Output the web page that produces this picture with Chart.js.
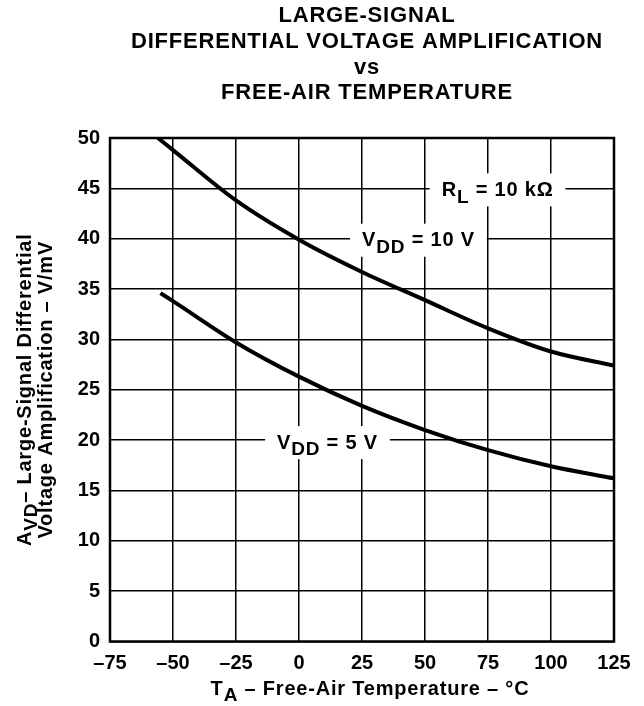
<!DOCTYPE html>
<html>
<head>
<meta charset="utf-8">
<script src="https://cdn.jsdelivr.net/npm/chart.js@4.4.0/dist/chart.umd.min.js"></script>
<style>
html,body{margin:0;padding:0;background:#fff;}
#wrap{width:644px;height:706px;position:relative;}
</style>
</head>
<body>
<div id="wrap"><canvas id="c" width="644" height="706"></canvas></div>
<script>
// ---- data ----
const titleLines = ["LARGE-SIGNAL", "DIFFERENTIAL VOLTAGE AMPLIFICATION", "vs", "FREE-AIR TEMPERATURE"];
const temps10 = [-56, -50, -25, 0, 25, 50, 75, 100, 125];
const avd10   = [50, 48.8, 43.8, 39.9, 36.7, 33.9, 31.1, 28.8, 27.4];
const temps5  = [-55, -50, -25, 0, 25, 50, 75, 100, 125];
const avd5    = [34.6, 33.8, 29.7, 26.3, 23.4, 21.0, 19.0, 17.4, 16.2];
const xTicks = [-75, -50, -25, 0, 25, 50, 75, 100, 125];
const yTicks = [0, 5, 10, 15, 20, 25, 30, 35, 40, 45, 50];
const curveLabels = [
  {parts: [["R",0],["L",1],[" = 10 k\u03A9",0]], x: 78.8, y: 44.8},
  {parts: [["V",0],["DD",1],[" = 10 V",0]], x: 47.4, y: 39.8},
  {parts: [["V",0],["DD",1],[" = 5 V",0]], x: 11.3, y: 19.7}
];
const xTitleParts = [["T",0],["A",1],[" \u2013 Free-Air Temperature \u2013 \u00B0C",0]];
const yTitle1 = [["A",0],["VD",1],["\u2013 Large-Signal Differential",0]];
const yTitle2 = [["Voltage Amplification \u2013 V/mV",0]];

const FAM = '"Liberation Sans", Arial, Helvetica, sans-serif';
const MAIN = 'bold 20px ' + FAM;
const SUB = 'bold 19px ' + FAM;
const SP = '0.8px';

function richWidth(ctx, parts){
  let w = 0;
  ctx.letterSpacing = SP;
  for (const [t, s] of parts){ ctx.font = s ? SUB : MAIN; w += ctx.measureText(t).width; }
  return w;
}
function drawRich(ctx, parts, cx, cy){
  const w = richWidth(ctx, parts);
  let x = cx - w/2;
  ctx.textBaseline = 'middle';
  ctx.textAlign = 'left';
  ctx.letterSpacing = SP;
  for (const [t, s] of parts){
    ctx.font = s ? SUB : MAIN;
    ctx.fillText(t, x, s ? cy + 7 : cy);
    x += ctx.measureText(t).width;
  }
  return w;
}

const decor = {
  id: 'decor',
  beforeDatasetsDraw(chart){
    const ctx = chart.ctx, xs = chart.scales.x, ys = chart.scales.y;
    ctx.save();
    for (const lb of curveLabels){
      const cx = xs.getPixelForValue(lb.x), cy = ys.getPixelForValue(lb.y);
      const w = richWidth(ctx, lb.parts);
      ctx.fillStyle = '#fff';
      ctx.fillRect(cx - w/2 - 12, cy - 17, w + 24, 33);
    }
    ctx.restore();
  },
  afterDatasetsDraw(chart){
    const ctx = chart.ctx, xs = chart.scales.x, ys = chart.scales.y, a = chart.chartArea;
    ctx.save();
    ctx.fillStyle = '#000';
    for (const lb of curveLabels){
      const cx = xs.getPixelForValue(lb.x), cy = ys.getPixelForValue(lb.y);
      drawRich(ctx, lb.parts, cx, cy);
    }
    // frame
    ctx.strokeStyle = '#000';
    ctx.lineWidth = 2.5;
    ctx.strokeRect(a.left, a.top, a.right - a.left, a.bottom - a.top);
    // title
    const cxT = (a.left + a.right) / 2 + 5;
    ctx.font = 'bold 22px ' + FAM; ctx.letterSpacing = '0.8px';
    ctx.textAlign = 'center'; ctx.textBaseline = 'middle';
    const ty = [16, 42, 68, 93];
    titleLines.forEach((t, i) => ctx.fillText(t, cxT, ty[i]));
    // x title
    drawRich(ctx, xTitleParts, cxT + 3, 689);
    // y title
    const cy = (a.top + a.bottom) / 2;
    ctx.save(); ctx.translate(25, cy); ctx.rotate(-Math.PI/2);
    drawRich(ctx, yTitle1, 0, 0);
    ctx.restore();
    ctx.save(); ctx.translate(46, cy); ctx.rotate(-Math.PI/2);
    drawRich(ctx, yTitle2, 0, 0);
    ctx.restore();
    ctx.restore();
  }
};

new Chart(document.getElementById('c'), {
  type: 'line',
  data: {
    datasets: [
      {data: temps10.map((t, i) => ({x: t, y: avd10[i]})), borderColor: '#000', borderWidth: 4, pointRadius: 0, cubicInterpolationMode: 'monotone', fill: false},
      {data: temps5.map((t, i) => ({x: t, y: avd5[i]})), borderColor: '#000', borderWidth: 4, pointRadius: 0, cubicInterpolationMode: 'monotone', fill: false}
    ]
  },
  options: {
    responsive: false,
    animation: false,
    layout: {padding: {top: 138, right: 30, left: 0, bottom: 0}},
    plugins: {legend: {display: false}, tooltip: {enabled: false}, title: {display: false}},
    scales: {
      x: {
        type: 'linear', min: -75, max: 125,
        afterBuildTicks: s => { s.ticks = xTicks.map(v => ({value: v})); },
        afterFit: s => { s.height = 64.5; },
        grid: {color: '#000', lineWidth: 1.5, drawTicks: false},
        border: {display: false},
        ticks: {color: '#000', padding: 10, font: {family: FAM, size: 20, weight: 'bold'},
          callback: v => v < 0 ? '\u2013' + Math.abs(v) : String(v)}
      },
      y: {
        type: 'linear', min: 0, max: 50,
        afterBuildTicks: s => { s.ticks = yTicks.map(v => ({value: v})); },
        afterFit: s => { s.width = 110; },
        grid: {color: '#000', lineWidth: 1.5, drawTicks: false},
        border: {display: false},
        ticks: {color: '#000', padding: 10, font: {family: FAM, size: 20, weight: 'bold'}}
      }
    }
  },
  plugins: [decor]
});
</script>
</body>
</html>
